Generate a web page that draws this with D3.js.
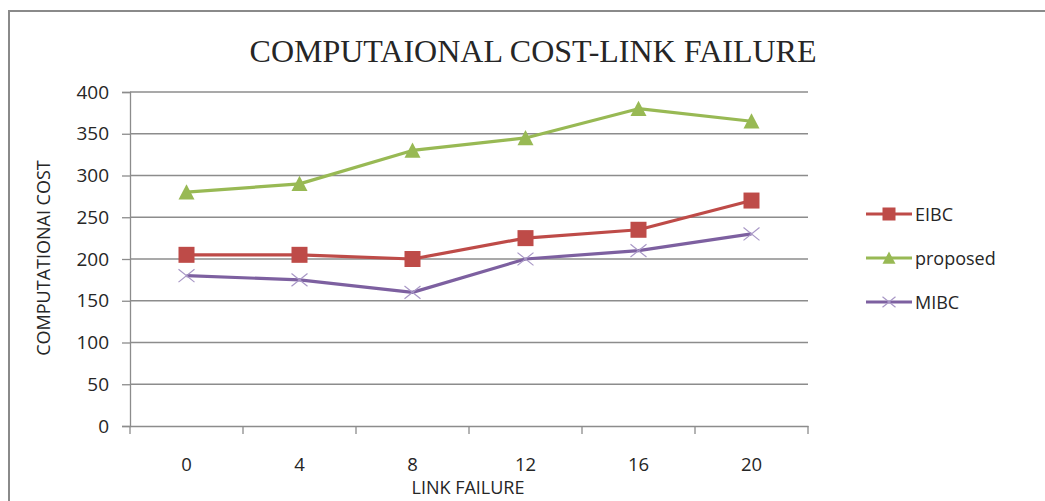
<!DOCTYPE html>
<html>
<head>
<meta charset="utf-8">
<script src="https://cdn.jsdelivr.net/npm/d3@7"></script>
<style>
  html, body { margin: 0; padding: 0; background: #fff; }
  svg { display: block; }
</style>
</head>
<body>
<svg id="chart" width="1045" height="501"></svg>
<script>
// Link failure counts on the x axis
const categories = ["0", "4", "8", "12", "16", "20"];
// Computational cost per scheme
const eibc = [205, 205, 200, 225, 235, 270];
const proposed = [280, 290, 330, 345, 380, 365];
const mibc = [180, 175, 160, 200, 210, 230];
const yTicks = [0, 50, 100, 150, 200, 250, 300, 350, 400];

const seriesList = [
  { name: "EIBC", values: eibc, color: "#BE4B48", marker: "square" },
  { name: "proposed", values: proposed, color: "#98B954", marker: "triangle" },
  { name: "MIBC", values: mibc, color: "#7D60A0", marker: "cross" }
];

const svg = d3.select("#chart");
const font = "'Open Sans', Lato, sans-serif";
const textColor = "#262626";

// Outer frame
svg.append("path")
  .attr("d", "M9,501 L9,11 L1045,11")
  .attr("fill", "none")
  .attr("stroke", "#8a8a8a")
  .attr("stroke-width", 2);

const plot = { left: 130, right: 808, top: 92, bottom: 426 };

const x = d3.scaleBand().domain(categories).range([plot.left, plot.right]);
const y = d3.scaleLinear().domain([0, 400]).range([plot.bottom, plot.top]);

// Horizontal gridlines
svg.append("g")
  .selectAll("line")
  .data(yTicks.filter(d => d > 0))
  .join("line")
  .attr("x1", plot.left).attr("x2", plot.right)
  .attr("y1", d => y(d)).attr("y2", d => y(d))
  .attr("stroke", "#8c8c8c").attr("stroke-width", 1.3);

// Y axis
const yAxis = svg.append("g")
  .attr("transform", `translate(${plot.left},0)`)
  .call(d3.axisLeft(y).tickValues(yTicks).tickSize(8).tickPadding(13));
yAxis.select(".domain").attr("stroke", "#8c8c8c").attr("stroke-width", 1.3);
yAxis.selectAll(".tick line").attr("stroke", "#8c8c8c").attr("stroke-width", 1.3);
yAxis.selectAll("text")
  .attr("font-family", font).attr("font-size", 19).attr("fill", textColor);

// X axis with ticks at band boundaries
const xAxis = svg.append("g")
  .attr("transform", `translate(0,${plot.bottom})`)
  .call(d3.axisBottom(x).tickSize(0).tickPadding(32));
xAxis.select(".domain").attr("stroke", "#8c8c8c").attr("stroke-width", 1.3);
xAxis.selectAll("text")
  .attr("font-family", font).attr("font-size", 18.5).attr("fill", textColor);
const edges = categories.map(c => x(c)).concat([plot.right]);
xAxis.selectAll(".edge")
  .data(edges)
  .join("line")
  .attr("class", "edge")
  .attr("x1", d => d).attr("x2", d => d)
  .attr("y1", 0).attr("y2", 8)
  .attr("stroke", "#8c8c8c").attr("stroke-width", 1.3);

// Title and axis labels
svg.append("text")
  .attr("x", 533).attr("y", 62)
  .attr("text-anchor", "middle")
  .attr("font-family", "'Liberation Serif', 'DejaVu Serif', serif")
  .attr("font-size", 32).attr("fill", textColor)
  .text("COMPUTAIONAL COST-LINK FAILURE");

svg.append("text")
  .attr("x", 468).attr("y", 494)
  .attr("text-anchor", "middle")
  .attr("font-family", font).attr("font-size", 18).attr("fill", textColor)
  .text("LINK FAILURE");

svg.append("text")
  .attr("transform", "translate(50,258) rotate(-90)")
  .attr("text-anchor", "middle")
  .attr("font-family", font).attr("font-size", 18).attr("fill", textColor)
  .text("COMPUTATIONAI COST");

function drawMarker(g, type, color, size) {
  const h = size / 2;
  if (type === "square") {
    g.append("rect")
      .attr("x", -h).attr("y", -h).attr("width", size).attr("height", size)
      .attr("fill", color);
  } else if (type === "triangle") {
    g.append("path")
      .attr("d", `M0,${-h} L${h},${h * 0.9} L${-h},${h * 0.9} Z`)
      .attr("fill", color);
  } else {
    g.append("path")
      .attr("d", `M${-h},${-h * 0.8} L${h},${h * 0.8} M${-h},${h * 0.8} L${h},${-h * 0.8}`)
      .attr("stroke", "#a897c6").attr("stroke-width", 1.2).attr("fill", "none");
  }
}

const line = d3.line()
  .x((d, i) => x(categories[i]) + x.bandwidth() / 2)
  .y(d => y(d));

seriesList.forEach(s => {
  svg.append("path")
    .datum(s.values)
    .attr("d", line)
    .attr("fill", "none")
    .attr("stroke", s.color)
    .attr("stroke-width", 3.2)
    .attr("stroke-linejoin", "round");
  s.values.forEach((v, i) => {
    const g = svg.append("g")
      .attr("transform", `translate(${x(categories[i]) + x.bandwidth() / 2},${y(v)})`);
    drawMarker(g, s.marker, s.color, 16);
  });
});

// Legend
const legendY = [214, 258, 302];
seriesList.forEach((s, i) => {
  const g = svg.append("g").attr("transform", `translate(0,${legendY[i]})`);
  g.append("line")
    .attr("x1", 866).attr("x2", 912).attr("y1", 0).attr("y2", 0)
    .attr("stroke", s.color).attr("stroke-width", 3.2);
  const m = g.append("g").attr("transform", "translate(889,0)");
  drawMarker(m, s.marker, s.color, 13);
  g.append("text")
    .attr("x", 915).attr("y", 7)
    .attr("font-family", font).attr("font-size", 18).attr("fill", textColor)
    .text(s.name);
});
</script>
</body>
</html>
